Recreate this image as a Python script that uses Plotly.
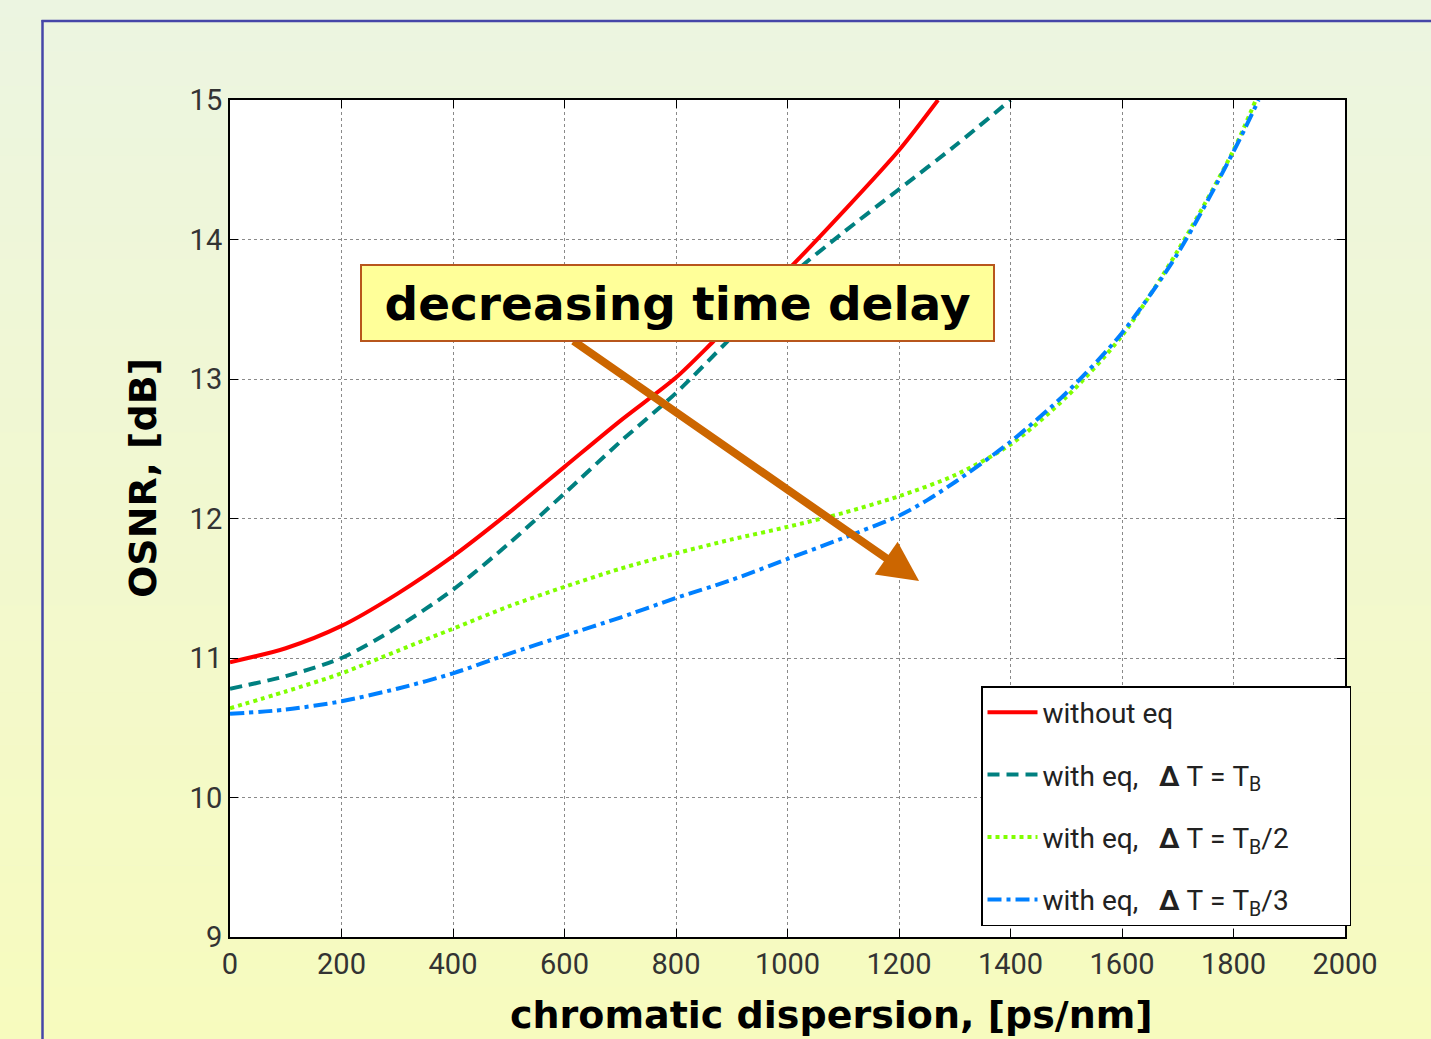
import plotly.graph_objects as go

# ---- data ----
disp_red = [0, 100, 200, 300, 400, 500, 600, 700, 800, 866, 900, 1000, 1100, 1200, 1270]
osnr_red = [10.97, 11.07, 11.23, 11.46, 11.73, 12.04, 12.37, 12.70, 13.01, 13.265, 13.40, 13.78, 14.20, 14.64, 15.0]

disp_teal = [0, 100, 200, 300, 400, 500, 600, 700, 800, 891, 1000, 1100, 1200, 1300, 1400]
osnr_teal = [10.78, 10.87, 11.00, 11.22, 11.49, 11.82, 12.18, 12.55, 12.90, 13.265, 13.72, 14.05, 14.36, 14.67, 15.0]

disp_green = [0, 100, 200, 300, 400, 500, 600, 700, 800, 900, 1000, 1100, 1200, 1300, 1400, 1500, 1600, 1700, 1800, 1840]
osnr_green = [10.64, 10.76, 10.89, 11.05, 11.21, 11.37, 11.51, 11.64, 11.75, 11.85, 11.94, 12.04, 12.16, 12.31, 12.53, 12.87, 13.31, 13.92, 14.64, 15.0]

disp_blue = [0, 100, 200, 300, 400, 500, 600, 700, 800, 900, 1000, 1100, 1200, 1250, 1300, 1400, 1500, 1600, 1700, 1800, 1845]
osnr_blue = [10.60, 10.63, 10.69, 10.78, 10.89, 11.03, 11.16, 11.29, 11.43, 11.56, 11.71, 11.86, 12.02, 12.13, 12.26, 12.55, 12.90, 13.33, 13.90, 14.63, 15.0]

SP = "&nbsp;"
SUB_B = "<sub>B</sub>"
series_names = [
    "without eq",
    "with eq," + SP * 3 + "<b>Δ</b>" + SP + "T" + SP + "=" + SP + "T" + SUB_B + SP * 9,
    "with eq," + SP * 3 + "<b>Δ</b>" + SP + "T" + SP + "=" + SP + "T" + SUB_B + "/2" + SP * 8,
    "with eq," + SP * 3 + "<b>Δ</b>" + SP + "T" + SP + "=" + SP + "T" + SUB_B + "/3" + SP * 8,
]
x_ticks = [0, 200, 400, 600, 800, 1000, 1200, 1400, 1600, 1800, 2000]
y_ticks = [9, 10, 11, 12, 13, 14, 15]
annot_text = "decreasing time delay"
x_title = "chromatic dispersion, [ps/nm]"
y_title = "OSNR, [dB]"

W, H = 1431, 1039
ML, MR, MT, MB = 230, 86, 100, 102
PW, PH = W - ML - MR, H - MT - MB

def px2paper_x(px):
    return (px - ML) / PW

def px2paper_y(py):
    return (H - MB - py) / PH

fig = go.Figure()
styles = [
    dict(color="#FF0000", width=4, dash="solid"),
    dict(color="#008080", width=4, dash="12px,7px"),
    dict(color="#80FF00", width=4, dash="4px,4px"),
    dict(color="#0080FF", width=4, dash="14px,5px,4px,5px"),
]
for i, ((xs, ys), name, st) in enumerate(zip(
        [(disp_red, osnr_red), (disp_teal, osnr_teal), (disp_green, osnr_green), (disp_blue, osnr_blue)],
        series_names, styles)):
    fig.add_trace(go.Scatter(x=xs, y=ys, mode="lines", name=name, legendgroup="g%d" % i,
                             line=dict(color=st["color"], width=st["width"], dash=st["dash"],
                                       shape="spline", smoothing=0.8)))

# background gradient (light green top -> light yellow bottom)
shapes = []
top_c = (236, 245, 225)
bot_c = (247, 251, 190)
n = 60
y0p, y1p = px2paper_y(0), px2paper_y(H)
for i in range(n):
    t = i / (n - 1)
    c = tuple(int(round(top_c[k] + (bot_c[k] - top_c[k]) * t)) for k in range(3))
    ya = y0p + (y1p - y0p) * i / n
    yb = y0p + (y1p - y0p) * (i + 1) / n
    shapes.append(dict(type="rect", xref="paper", yref="paper", layer="below",
                       x0=px2paper_x(-2), x1=px2paper_x(W + 2), y0=yb, y1=ya + 0.0005,
                       line=dict(width=0), fillcolor="rgb(%d,%d,%d)" % c))
# white plot area
shapes.append(dict(type="rect", xref="paper", yref="paper", layer="below",
                   x0=0, x1=1, y0=0, y1=1, line=dict(width=0), fillcolor="white"))
# outer frame lines (blue)
shapes.append(dict(type="line", xref="paper", yref="paper", layer="above",
                   x0=px2paper_x(42.5), x1=px2paper_x(42.5), y0=px2paper_y(20), y1=px2paper_y(H + 5),
                   line=dict(color="#4646A8", width=2.5)))
shapes.append(dict(type="line", xref="paper", yref="paper", layer="above",
                   x0=px2paper_x(41.5), x1=px2paper_x(W + 5), y0=px2paper_y(21), y1=px2paper_y(21),
                   line=dict(color="#4646A8", width=2.5)))

annotations = [
    # arrow
    dict(x=1236, y=11.552, xref="x", yref="y", ax=613.5, ay=13.28, axref="x", ayref="y",
         text="", showarrow=True, arrowhead=2, arrowsize=1.0, arrowwidth=8, arrowcolor="#CC6600",
         standoff=0, startstandoff=0),
    # text box
    dict(x=802, y=13.545, xref="x", yref="y", text="<b>%s</b>" % annot_text, showarrow=False,
         font=dict(family="DejaVu Sans", size=47, color="black"),
         bgcolor="#FFFF99", bordercolor="#B8561C", borderwidth=2, borderpad=0,
         width=631, height=74, xanchor="center", yanchor="middle"),
    # axis titles
    dict(x=px2paper_x(831), y=px2paper_y(1015), xref="paper", yref="paper",
         text="<b>%s</b>" % x_title, showarrow=False,
         font=dict(family="DejaVu Sans", size=38, color="black"),
         xanchor="center", yanchor="middle"),
    dict(x=px2paper_x(143), y=px2paper_y(478), xref="paper", yref="paper",
         text="<b>%s</b>" % y_title, showarrow=False, textangle=-90,
         font=dict(family="DejaVu Sans", size=38, color="black"),
         xanchor="center", yanchor="middle"),
]

tickfont = dict(family="Roboto, sans-serif", size=29, color="#333333")
axis_common = dict(showline=True, linecolor="black", linewidth=2, mirror="ticks",
                   ticks="inside", ticklen=8, tickcolor="black", tickwidth=1,
                   showgrid=True, gridcolor="#8a8a8a", gridwidth=1, griddash="dot",
                   zeroline=False, tickfont=tickfont)

fig.update_layout(
    width=W, height=H,
    margin=dict(l=ML, r=MR, t=MT, b=MB, autoexpand=False),
    paper_bgcolor="rgb(240,248,210)",
    plot_bgcolor="white",
    xaxis=dict(range=[0, 2000], tickvals=x_ticks, ticktext=[str(v) for v in x_ticks], **axis_common),
    yaxis=dict(range=[9, 15], tickvals=y_ticks, ticktext=[str(v) for v in y_ticks], **axis_common),
    shapes=shapes,
    annotations=annotations,
    showlegend=True,
    legend=dict(x=px2paper_x(981), y=px2paper_y(686), xanchor="left", yanchor="top",
                bgcolor="white", bordercolor="black", borderwidth=1.5,
                font=dict(family="Roboto, sans-serif", size=28, color="#222222"),
                itemwidth=50, tracegroupgap=23, traceorder="grouped"),
)

fig.write_html("out.html", config={"displayModeBar": False},
               post_script="document.body.style.margin='0';document.body.style.overflow='hidden';")
